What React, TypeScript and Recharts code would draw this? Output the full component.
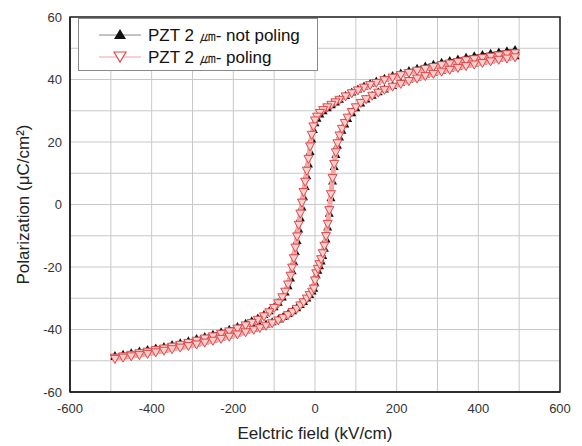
import { ScatterChart, Scatter, XAxis, YAxis, CartesianGrid, ReferenceArea, Label } from 'recharts';

// descending branch (from +E max to -E max)
const upperField = [
  490, 470, 450, 430, 410, 390, 370, 350, 330, 310,
  290, 270, 250, 230, 210, 190, 170, 150, 135, 120,
  105, 90, 75, 60, 50, 40, 30, 20, 12, 5,
  0, -4, -8, -12, -16, -20, -24, -28, -32, -36,
  -40, -44, -48, -52, -56, -60, -66, -73, -80, -90,
  -100, -112, -125, -140, -155, -170, -190, -210, -230, -250,
  -270, -290, -310, -330, -350, -370, -390, -410, -430, -450,
  -470, -490,
];

// ascending branch (from -E max back to +E max)
const lowerField = [
  -490, -470, -450, -430, -410, -390, -370, -350, -330, -310,
  -290, -270, -250, -230, -210, -190, -170, -150, -135, -120,
  -105, -90, -78, -66, -55, -45, -36, -28, -20, -13,
  -7, -3, 0, 3, 7, 11, 15, 19, 23, 27,
  31, 35, 39, 43, 47, 51, 55, 60, 66, 73,
  80, 90, 100, 112, 125, 140, 155, 170, 190, 210,
  230, 250, 270, 290, 310, 330, 350, 370, 390, 410,
  430, 450, 470, 490,
];

const notPolingUpper = [
  49.6, 49.2, 48.8, 48.4, 48.0, 47.6, 47.1, 46.6, 46.1, 45.5,
  44.9, 44.3, 43.6, 42.9, 42.1, 41.3, 40.4, 39.5, 38.7, 37.9,
  37.0, 36.0, 34.9, 33.7, 32.8, 31.9, 31.0, 30.0, 29.0, 27.6,
  26.2, 24.0, 21.0, 17.0, 13.0, 9.2, 5.8, 2.5, -0.8, -4.2,
  -7.8, -11.5, -15.0, -18.3, -21.2, -23.5, -26.0, -28.0, -29.6, -31.3,
  -32.7, -34.0, -35.2, -36.3, -37.2, -38.0, -39.0, -39.9, -40.7, -41.5,
  -42.2, -42.9, -43.6, -44.2, -44.8, -45.4, -45.9, -46.4, -46.9, -47.4,
  -47.9, -48.3,
];

const notPolingLower = [
  -48.6, -48.3, -47.9, -47.5, -47.1, -46.7, -46.2, -45.7, -45.2, -44.7,
  -44.2, -43.6, -43.0, -42.4, -41.7, -41.0, -40.3, -39.5, -38.9, -38.2,
  -37.5, -36.6, -35.8, -34.9, -34.0, -33.0, -32.0, -31.0, -29.9, -28.8,
  -27.7, -26.8, -25.0, -22.5, -21.0, -19.6, -18.1, -16.3, -14.0, -11.0,
  -7.2, -2.8, 2.2, 7.5, 12.2, 16.0, 19.0, 21.6, 23.8, 25.8,
  27.5, 29.4, 31.0, 32.5, 33.8, 35.0, 36.1, 37.0, 38.1, 39.1,
  40.0, 40.8, 41.6, 42.3, 43.0, 43.6, 44.2, 44.8, 45.3, 45.8,
  46.3, 46.8, 47.2, 47.6,
];

const polingUpper = [
  48.4, 48.1, 47.7, 47.3, 46.9, 46.5, 46.1, 45.6, 45.1, 44.6,
  44.0, 43.4, 42.8, 42.1, 41.4, 40.6, 39.8, 38.9, 38.2, 37.4,
  36.5, 35.6, 34.6, 33.5, 32.7, 31.9, 31.1, 30.2, 29.3, 28.1,
  26.9, 25.0, 22.3, 18.6, 14.6, 10.8, 7.3, 4.0, 0.6, -2.9,
  -6.5, -10.2, -13.8, -17.2, -20.2, -22.8, -25.6, -27.9, -29.7, -31.6,
  -33.1, -34.5, -35.8, -36.9, -37.9, -38.7, -39.7, -40.6, -41.4, -42.2,
  -42.9, -43.6, -44.3, -44.9, -45.5, -46.1, -46.6, -47.1, -47.6, -48.1,
  -48.6, -49.0,
];

const polingLower = [
  -49.4, -49.0, -48.6, -48.2, -47.8, -47.3, -46.8, -46.3, -45.8, -45.3,
  -44.8, -44.2, -43.6, -43.0, -42.3, -41.6, -40.9, -40.1, -39.5, -38.8,
  -38.0, -37.1, -36.3, -35.4, -34.4, -33.4, -32.3, -31.3, -30.1, -29.0,
  -27.9, -26.9, -24.3, -22.0, -20.6, -19.1, -17.5, -15.6, -13.2, -10.1,
  -6.2, -1.8, 3.3, 8.5, 13.0, 16.7, 19.6, 22.1, 24.2, 26.1,
  27.8, 29.6, 31.1, 32.5, 33.7, 34.8, 35.8, 36.7, 37.7, 38.6,
  39.5, 40.3, 41.1, 41.8, 42.5, 43.1, 43.7, 44.3, 44.8, 45.3,
  45.8, 46.3, 46.7, 47.1,
];

// every 100 / 10 gets a grid line, every 200 / 20 a label
const xTicks = [-600, -500, -400, -300, -200, -100, 0, 100, 200, 300, 400, 500, 600];
const yTicks = [-60, -50, -40, -30, -20, -10, 0, 10, 20, 30, 40, 50, 60];

const seriesNames = ['PZT 2 \u339B- not poling', 'PZT 2 \u339B- poling'];

const toPoints = (field: number[], vals: number[]) => field.map((e, i) => ({ e, p: vals[i] }));

const notPoling = [...toPoints(upperField, notPolingUpper), ...toPoints(lowerField, notPolingLower)];
const poling = [...toPoints(upperField, polingUpper), ...toPoints(lowerField, polingLower)];

const FONT = 'Arial, "Liberation Sans", sans-serif';
const BLACK = '#111';
const RED = '#e24848';

const UpTri = (props: any) => {
  const { cx, cy } = props;
  return <polygon points={`${cx},${cy - 4.5} ${cx + 4.5},${cy + 3.5} ${cx - 4.5},${cy + 3.5}`} fill={BLACK} />;
};

const DownTri = (props: any) => {
  const { cx, cy } = props;
  return (
    <polygon
      points={`${cx - 4.5},${cy - 3.5} ${cx + 4.5},${cy - 3.5} ${cx},${cy + 4.5}`}
      fill="#f9cfcf"
      stroke={RED}
      strokeWidth={1}
    />
  );
};

const LegendBox = () => (
  <div
    style={{
      position: 'absolute',
      left: 78,
      top: 18,
      border: '1px solid #8a8a8a',
      background: '#fff',
      width: 238,
      height: 51,
      fontFamily: FONT,
    }}
  >
    <svg width={238} height={51} style={{ display: 'block' }}>
      <line x1={20} y1={16} x2={62} y2={16} stroke="#888" strokeWidth={1} />
      <polygon points="41,10 47,20 35,20" fill={BLACK} />
      <text x={69} y={22} fontSize={17} fill="#111">{seriesNames[0]}</text>
      <line x1={20} y1={38} x2={62} y2={38} stroke="#f0a0a0" strokeWidth={1} />
      <polygon points="35,33 47,33 41,43" fill="#fff" stroke={RED} strokeWidth={1.2} />
      <text x={69} y={44} fontSize={17} fill="#111">{seriesNames[1]}</text>
    </svg>
  </div>
);

export default function App() {
  return (
    <div style={{ position: 'absolute', left: 0, top: 0, width: 582, height: 446, background: '#fff' }}>
      <ScatterChart width={582} height={446} margin={{ top: 17, right: 22, left: 0, bottom: 0 }}>
        <CartesianGrid stroke="#c8c8c8" strokeWidth={1} />
        <XAxis
          type="number"
          dataKey="e"
          domain={[-600, 600]}
          ticks={xTicks}
          interval={0}
          tickFormatter={(v: number) => (v % 200 === 0 ? String(v) : '')}
          height={54}
          tickLine={false}
          tickSize={0}
          tickMargin={12}
          axisLine={{ stroke: '#222', strokeWidth: 1.5 }}
          tick={{ fontSize: 13, fill: '#333', fontFamily: FONT }}
        >
          <Label
            value="Eelctric field (kV/cm)"
            position="insideBottom"
            offset={7}
            style={{ fontSize: 17, fill: '#222', fontFamily: FONT }}
          />
        </XAxis>
        <YAxis
          type="number"
          dataKey="p"
          domain={[-60, 60]}
          ticks={yTicks}
          interval={0}
          tickFormatter={(v: number) => (v % 20 === 0 ? String(v) : '')}
          width={70}
          tickLine={false}
          tickSize={0}
          tickMargin={8}
          axisLine={{ stroke: '#222', strokeWidth: 1.5 }}
          tick={{ fontSize: 13, fill: '#333', fontFamily: FONT }}
        >
          <Label
            value={'Polarization (\u03BCC/cm\u00B2)'}
            angle={-90}
            position="insideLeft"
            offset={23}
            style={{ fontSize: 17, fill: '#222', fontFamily: FONT, textAnchor: 'middle' }}
          />
        </YAxis>
        <ReferenceArea x1={-600} x2={600} y1={-60} y2={60} fill="none" stroke="#222" strokeWidth={1.5} />
        <Scatter
          name={seriesNames[0]}
          data={notPoling}
          shape={UpTri}
          line={{ stroke: '#222', strokeWidth: 2 }}
          isAnimationActive={false}
        />
        <Scatter
          name={seriesNames[1]}
          data={poling}
          shape={DownTri}
          line={{ stroke: '#f2a8a8', strokeWidth: 5 }}
          isAnimationActive={false}
        />
      </ScatterChart>
      <LegendBox />
    </div>
  );
}
